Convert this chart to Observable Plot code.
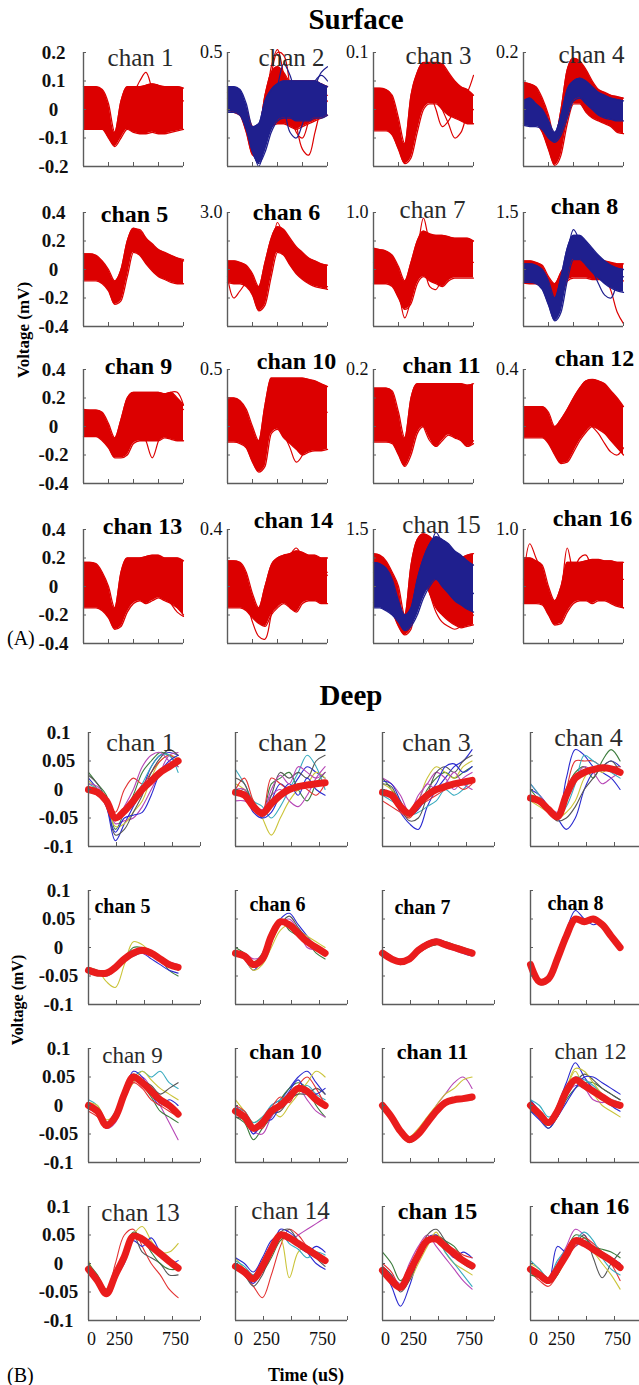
<!DOCTYPE html>
<html><head><meta charset="utf-8">
<script src="https://cdn.jsdelivr.net/npm/d3@7"></script>
<script src="https://cdn.jsdelivr.net/npm/@observablehq/plot@0.6"></script>
<style>
html,body{margin:0;padding:0;background:#fff;}
#fig{position:relative;width:639px;height:1385px;overflow:hidden;background:#fff;}
</style></head><body><div id="fig"></div>
<script>
// ---------------- DATA ----------------
const channels = ["chan 1","chan 2","chan 3","chan 4","chan 5","chan 6","chan 7","chan 8",
  "chan 9","chan 10","chan 11","chan 12","chan 13","chan 14","chan 15","chan 16"];
const surfTime = [0,62.5,125,187.5,250,312.5,375,437.5,500,562.5,625,687.5,750,812.5,875,937.5,1000];
const deepTime = [0,80,160,240,320,400,480,560,640,720,800];
const xTicks = [0,250,500,750,1000];
const deepXLabels = [0,250,750];
const surfYTicksRow1 = [0.2,0.1,0,-0.1,-0.2];
const surfYTicks = [0.4,0.2,0,-0.2,-0.4];
const deepYTicks = [0.1,0.05,0,-0.05,-0.1];
const surfTopLabels = ["0.2","0.5","0.1","0.2","0.4","3.0","1.0","1.5","0.4","0.5","0.2","0.4","0.4","0.4","1.5","1.0"];

// Surface: red spike bundle envelopes (upper / lower), in the units of each row's left axis
const surfRedHi = [
  [0.08,0.08,0.08,0.07,0.02,-0.08,0.03,0.08,0.08,0.08,0.085,0.09,0.085,0.08,0.08,0.08,0.075],
  [0.06,0.06,0.05,0.0,-0.06,-0.07,0.05,0.13,0.15,0.13,0.1,0.1,0.1,0.1,0.1,0.09,0.08],
  [0.075,0.075,0.07,0.05,-0.03,-0.12,0.05,0.13,0.165,0.165,0.165,0.16,0.13,0.1,0.08,0.07,0.05],
  [0.095,0.09,0.08,0.04,-0.02,-0.1,0.0,0.14,0.18,0.17,0.14,0.1,0.07,0.06,0.05,0.045,0.04],
  [0.11,0.11,0.1,0.06,0.0,-0.08,0.0,0.2,0.29,0.27,0.22,0.18,0.14,0.12,0.1,0.08,0.06],
  [0.06,0.06,0.05,0.03,-0.03,-0.12,0.05,0.22,0.3,0.28,0.22,0.16,0.12,0.08,0.06,0.04,0.03],
  [0.15,0.14,0.13,0.1,0.02,-0.08,0.05,0.2,0.27,0.25,0.24,0.24,0.23,0.22,0.22,0.22,0.2],
  [0.06,0.06,0.05,0.03,-0.05,-0.1,-0.02,0.05,0.07,0.08,0.08,0.07,0.07,0.06,0.05,0.04,0.04],
  [0.12,0.115,0.115,0.1,0.02,-0.08,0.05,0.2,0.24,0.24,0.24,0.24,0.24,0.23,0.24,0.2,0.15],
  [0.2,0.2,0.18,0.12,0.0,-0.1,0.15,0.34,0.34,0.34,0.34,0.34,0.34,0.33,0.32,0.3,0.28],
  [0.27,0.27,0.27,0.25,0.1,-0.08,0.2,0.3,0.3,0.3,0.3,0.3,0.3,0.3,0.3,0.29,0.3],
  [0.14,0.14,0.14,0.14,0.1,0.0,0.05,0.12,0.2,0.27,0.32,0.33,0.32,0.3,0.25,0.2,0.14],
  [0.17,0.17,0.16,0.1,0.0,-0.15,0.1,0.2,0.2,0.2,0.21,0.22,0.22,0.2,0.2,0.2,0.18],
  [0.18,0.18,0.17,0.1,-0.05,-0.15,0.0,0.15,0.2,0.22,0.23,0.25,0.24,0.22,0.22,0.2,0.2],
  [0.23,0.22,0.18,0.1,0.0,-0.2,0.15,0.33,0.37,0.35,0.3,0.25,0.2,0.18,0.2,0.22,0.23],
  [0.2,0.2,0.18,0.15,0.0,-0.1,0.0,0.17,0.17,0.17,0.18,0.19,0.19,0.18,0.18,0.17,0.17]
];
const surfRedLo = [
  [-0.07,-0.07,-0.07,-0.07,-0.1,-0.13,-0.1,-0.07,-0.08,-0.085,-0.085,-0.08,-0.085,-0.085,-0.08,-0.075,-0.07],
  [0.0,-0.01,-0.02,-0.08,-0.16,-0.17,-0.12,-0.06,-0.05,-0.05,-0.06,-0.07,-0.06,-0.05,-0.04,-0.03,-0.02],
  [-0.075,-0.075,-0.075,-0.09,-0.14,-0.19,-0.17,-0.08,0.0,0.02,0.02,0.0,-0.02,-0.03,-0.04,-0.05,-0.05],
  [-0.05,-0.05,-0.05,-0.08,-0.14,-0.196,-0.16,-0.05,0.02,0.02,-0.01,-0.03,-0.04,-0.05,-0.06,-0.08,-0.085],
  [-0.08,-0.08,-0.08,-0.1,-0.15,-0.245,-0.22,-0.05,0.12,0.1,0.04,-0.01,-0.05,-0.07,-0.09,-0.1,-0.1],
  [-0.09,-0.1,-0.1,-0.12,-0.18,-0.29,-0.25,-0.05,0.12,0.1,0.03,-0.03,-0.07,-0.1,-0.12,-0.13,-0.14],
  [-0.1,-0.1,-0.1,-0.12,-0.2,-0.28,-0.24,-0.1,-0.05,-0.08,-0.1,-0.12,-0.08,-0.06,-0.06,-0.06,-0.06],
  [-0.095,-0.1,-0.1,-0.12,-0.2,-0.27,-0.2,-0.08,-0.06,-0.06,-0.06,-0.07,-0.07,-0.07,-0.08,-0.08,-0.08],
  [-0.07,-0.07,-0.07,-0.1,-0.15,-0.22,-0.22,-0.2,-0.12,-0.1,-0.1,-0.1,-0.1,-0.08,-0.09,-0.1,-0.1],
  [-0.11,-0.11,-0.12,-0.15,-0.25,-0.32,-0.28,-0.05,-0.02,-0.08,-0.12,-0.16,-0.2,-0.18,-0.17,-0.17,-0.16],
  [-0.11,-0.11,-0.11,-0.12,-0.2,-0.28,-0.2,-0.05,0.0,-0.08,-0.14,-0.1,-0.06,-0.08,-0.1,-0.14,-0.12],
  [-0.08,-0.08,-0.08,-0.08,-0.12,-0.2,-0.26,-0.25,-0.18,-0.1,-0.04,0.0,-0.02,-0.05,-0.1,-0.15,-0.2],
  [-0.15,-0.15,-0.15,-0.17,-0.22,-0.3,-0.28,-0.18,-0.12,-0.1,-0.12,-0.1,-0.08,-0.1,-0.12,-0.15,-0.2],
  [-0.15,-0.15,-0.15,-0.17,-0.22,-0.26,-0.28,-0.2,-0.15,-0.12,-0.15,-0.18,-0.12,-0.1,-0.1,-0.12,-0.12],
  [-0.11,-0.12,-0.13,-0.18,-0.28,-0.34,-0.3,-0.05,0.05,-0.05,-0.15,-0.2,-0.24,-0.27,-0.29,-0.28,-0.27],
  [-0.12,-0.12,-0.12,-0.13,-0.2,-0.27,-0.26,-0.18,-0.12,-0.1,-0.1,-0.12,-0.1,-0.1,-0.12,-0.14,-0.15]
];
// Surface: blue (second unit) bundle envelopes, null where there is none
const surfBlueHi = [
  null,
  [0.08,0.08,0.07,0.02,-0.06,-0.05,0.03,0.07,0.09,0.1,0.1,0.1,0.1,0.1,0.1,0.09,0.08],
  null,
  [0.03,0.04,0.02,0.0,-0.04,-0.08,-0.02,0.07,0.1,0.11,0.1,0.08,0.06,0.05,0.04,0.035,0.03],
  null,null,null,
  [0.04,0.04,0.03,0.0,-0.08,-0.2,-0.05,0.15,0.24,0.24,0.2,0.15,0.1,0.06,0.03,0.01,0.0],
  null,null,null,null,null,null,
  [0.17,0.16,0.13,0.05,-0.1,-0.2,-0.15,0.05,0.2,0.3,0.35,0.33,0.3,0.25,0.22,0.18,0.15],
  null
];
const surfBlueLo = [
  null,
  [-0.01,-0.01,-0.02,-0.07,-0.15,-0.19,-0.15,-0.08,-0.04,-0.03,-0.03,-0.04,-0.04,-0.04,-0.03,-0.03,-0.02],
  null,
  [-0.056,-0.06,-0.06,-0.07,-0.1,-0.115,-0.09,-0.03,0.03,0.04,0.02,0.0,-0.02,-0.03,-0.035,-0.04,-0.04],
  null,null,null,
  [-0.09,-0.09,-0.1,-0.14,-0.25,-0.36,-0.3,-0.08,0.07,0.07,0.03,-0.02,-0.06,-0.1,-0.13,-0.15,-0.16],
  null,null,null,null,null,null,
  [-0.15,-0.15,-0.17,-0.2,-0.25,-0.31,-0.28,-0.2,-0.08,0.0,0.05,0.0,-0.05,-0.1,-0.13,-0.16,-0.18],
  null
];
// Surface: single outlying spikes drawn over the bundles
const surfRedOut = [
  [[0.03,0.03,0.02,0.0,-0.05,-0.1,-0.02,0.05,0.06,0.1,0.13,0.07,0.02,0.0,0.02,0.03,0.03]],
  [[0.04,0.04,0.03,-0.03,-0.12,-0.17,-0.05,0.12,0.2,0.19,0.08,-0.05,-0.14,-0.16,-0.08,0.0,0.03],
   [0.02,0.02,0.01,-0.05,-0.14,-0.16,-0.02,0.15,0.21,0.12,0.02,-0.08,-0.1,-0.04,0.02,0.04,0.05]],
  [[0.0,0.0,-0.01,-0.05,-0.12,-0.18,-0.05,0.08,0.12,0.1,0.05,0.0,-0.05,-0.1,-0.08,-0.02,0.0],
   [0.03,0.03,0.02,-0.02,-0.1,-0.17,-0.06,0.06,0.1,0.06,0.0,-0.06,-0.04,0.0,0.03,0.06,0.12]],
  [],
  [[0.0,0.0,-0.01,-0.04,-0.1,-0.2,-0.1,0.15,0.27,0.28,0.22,0.16,0.12,0.1,0.09,0.08,0.07]],
  [[-0.05,-0.2,-0.15,-0.1,-0.15,-0.25,-0.15,0.1,0.33,0.22,0.1,0.0,-0.05,-0.08,-0.1,-0.12,-0.12]],
  [[0.05,0.05,0.04,0.0,-0.15,-0.34,-0.2,0.1,0.36,0.2,0.15,0.1,0.1,0.12,0.15,0.18,0.2],
   [0.0,0.0,-0.02,-0.06,-0.15,-0.26,-0.2,-0.05,0.0,-0.12,-0.14,-0.05,0.05,0.08,0.06,0.05,0.05]],
  [[0.0,0.0,-0.01,-0.05,-0.15,-0.25,-0.1,0.03,0.05,0.04,0.02,0.0,-0.02,-0.05,-0.15,-0.3,-0.38]],
  [[0.0,0.0,0.0,-0.05,-0.12,-0.2,-0.15,0.0,0.05,0.0,-0.1,-0.22,-0.1,0.0,0.05,0.1,0.12],
   [0.0,0.0,0.0,-0.04,-0.1,-0.18,-0.1,0.1,0.2,0.18,0.12,0.1,0.14,0.2,0.24,0.24,0.15]],
  [[0.05,0.05,0.03,-0.05,-0.2,-0.3,-0.1,0.1,0.05,-0.05,-0.15,-0.25,-0.2,-0.05,0.05,0.1,0.1]],
  [[0.0,0.0,0.0,-0.03,-0.12,-0.22,-0.05,0.1,0.0,-0.1,-0.14,-0.05,0.05,0.0,-0.08,-0.14,-0.1]],
  [[0.0,0.0,0.0,0.0,-0.05,-0.15,-0.25,-0.2,-0.1,0.0,0.05,0.0,-0.05,-0.12,-0.18,-0.2,-0.15]],
  [[0.0,0.0,0.0,-0.05,-0.12,-0.25,-0.2,-0.05,0.0,-0.05,-0.12,-0.06,0.0,-0.05,-0.12,-0.18,-0.21]],
  [[0.0,0.0,-0.02,-0.1,-0.25,-0.35,-0.37,-0.2,-0.05,0.05,0.1,0.1,0.1,0.1,0.1,0.1,0.1],
   [0.0,0.0,-0.02,-0.06,-0.15,-0.2,-0.15,-0.05,0.05,0.15,0.22,0.27,0.2,0.1,0.05,0.05,0.08]],
  [[0.0,0.0,-0.02,-0.08,-0.2,-0.32,-0.1,0.2,0.1,-0.05,-0.18,-0.25,-0.28,-0.3,-0.28,-0.25,-0.2]],
  [[0.0,0.0,-0.02,-0.05,-0.15,-0.2,-0.05,0.27,0.1,0.05,0.05,0.05,0.05,0.05,0.05,0.05,0.05],
   [0.05,0.3,0.2,0.1,-0.05,-0.2,-0.15,0.0,0.1,0.2,0.22,0.1,0.0,-0.05,-0.1,-0.12,-0.15]]
];
const surfBlueOut = [
  [],
  [[0.05,0.05,0.04,-0.02,-0.12,-0.18,-0.1,0.0,0.03,0.0,-0.08,-0.1,-0.05,0.02,0.08,0.13,0.15],
   [0.03,0.03,0.02,-0.04,-0.13,-0.2,-0.12,-0.02,0.08,0.16,0.12,0.05,0.03,0.05,0.1,0.12,0.1]],
  [],
  [],[],[],[],
  [[0.0,0.0,-0.01,-0.05,-0.15,-0.3,-0.2,0.1,0.28,0.2,0.1,0.0,-0.1,-0.18,-0.2,-0.1,-0.05]],
  [],[],[],[],[],[],
  [[0.1,0.08,0.05,-0.02,-0.12,-0.25,-0.26,-0.15,0.05,0.25,0.38,0.3,0.2,0.1,0.05,0.0,-0.05]],
  []
];

// Deep: mean waveform (thick red) per channel
const deepMean = [
  [0.0,-0.005,-0.02,-0.05,-0.038,-0.02,0.0,0.015,0.03,0.04,0.05],
  [-0.005,-0.01,-0.03,-0.042,-0.025,-0.01,0.0,0.005,0.008,0.01,0.012],
  [-0.005,-0.01,-0.03,-0.042,-0.025,-0.01,0.0,0.005,0.01,0.013,0.016],
  [-0.015,-0.02,-0.035,-0.048,-0.01,0.02,0.03,0.035,0.038,0.036,0.03],
  [-0.04,-0.045,-0.045,-0.035,-0.02,-0.01,-0.005,-0.01,-0.02,-0.03,-0.035],
  [-0.01,-0.015,-0.03,-0.02,0.02,0.045,0.04,0.025,0.01,0.0,-0.01],
  [-0.01,-0.02,-0.025,-0.02,-0.005,0.005,0.01,0.005,0.0,-0.005,-0.01],
  [-0.03,-0.06,-0.055,-0.02,0.02,0.05,0.045,0.05,0.04,0.02,0.0],
  [0.0,-0.01,-0.035,-0.02,0.02,0.05,0.04,0.025,0.01,0.0,-0.015],
  [-0.01,-0.02,-0.04,-0.03,-0.01,0.0,0.015,0.03,0.025,0.01,0.0],
  [0.0,-0.02,-0.045,-0.06,-0.05,-0.03,-0.01,0.005,0.01,0.012,0.015],
  [0.0,-0.015,-0.03,-0.01,0.025,0.045,0.035,0.025,0.015,0.005,0.0],
  [-0.01,-0.03,-0.053,-0.02,0.012,0.048,0.043,0.03,0.017,0.004,-0.008],
  [-0.005,-0.015,-0.027,-0.005,0.025,0.05,0.045,0.035,0.025,0.015,0.005],
  [-0.012,-0.03,-0.042,-0.015,0.015,0.04,0.043,0.03,0.017,0.005,-0.004],
  [-0.01,-0.02,-0.03,-0.01,0.015,0.04,0.035,0.025,0.015,0.005,-0.007]
];
// Deep: individual spike traces (thin) per channel
const deepTraces = [
  [[0.02,0.0,-0.03,-0.09,-0.06,-0.03,0.0,0.04,0.06,0.065,0.06],
   [0.0,-0.01,-0.02,-0.06,-0.055,-0.05,-0.03,0.0,0.03,0.06,0.065],
   [0.03,0.01,-0.01,-0.07,-0.04,-0.01,0.03,0.05,0.065,0.06,0.04],
   [0.015,0.0,-0.02,-0.065,-0.06,-0.04,-0.02,0.02,0.05,0.06,0.055],
   [0.0,-0.01,-0.02,-0.04,0.0,0.02,0.01,0.03,0.05,0.06,0.05],
   [0.01,0.0,-0.02,-0.05,-0.035,-0.02,0.01,0.04,0.06,0.06,0.03],
   [0.025,0.01,-0.02,-0.08,-0.07,-0.04,-0.01,0.03,0.055,0.07,0.06],
   [0.0,-0.005,-0.03,-0.075,-0.05,-0.045,-0.04,-0.01,0.03,0.05,0.06],
   [0.01,0.005,-0.025,-0.055,-0.03,0.0,0.04,0.06,0.065,0.05,0.04]],
  [[0.0,-0.01,-0.04,-0.05,-0.02,0.01,0.0,0.02,0.04,0.03,0.02],
   [0.01,0.0,-0.02,-0.05,-0.08,-0.05,-0.02,0.0,0.01,0.03,0.02],
   [-0.01,0.0,-0.03,-0.04,0.01,0.02,0.03,0.0,-0.02,0.01,0.03],
   [0.035,0.01,-0.02,-0.03,-0.05,-0.03,0.0,0.03,0.06,0.04,0.0],
   [-0.02,-0.02,-0.03,-0.035,-0.01,0.0,-0.02,-0.03,-0.01,0.02,0.04],
   [0.0,0.02,-0.02,-0.04,0.02,0.01,0.0,0.01,0.0,-0.01,0.01],
   [0.02,0.01,-0.03,-0.045,-0.01,0.03,0.02,0.03,0.02,0.05,0.06],
   [-0.01,-0.005,-0.025,-0.05,-0.04,-0.01,0.01,-0.01,0.02,0.0,-0.01],
   [0.0,0.0,-0.035,-0.04,0.0,0.025,0.01,0.04,0.03,0.02,0.03]],
  [[0.0,-0.01,-0.04,-0.06,-0.07,-0.03,0.0,0.02,0.04,0.05,0.07],
   [0.02,0.0,-0.03,-0.04,-0.03,0.0,0.02,0.03,0.02,0.03,0.04],
   [0.01,0.0,-0.02,-0.05,-0.02,0.02,0.04,0.03,0.02,0.04,0.05],
   [-0.01,-0.02,-0.03,-0.045,-0.04,-0.03,-0.02,0.0,-0.01,0.0,0.02],
   [0.02,0.01,-0.01,-0.04,-0.01,0.01,0.03,0.02,0.0,0.02,0.03],
   [-0.02,-0.03,-0.04,-0.05,-0.03,-0.02,-0.01,0.0,0.01,0.0,0.01],
   [0.01,0.005,-0.03,-0.055,-0.05,-0.01,0.03,0.04,0.03,0.05,0.06],
   [-0.005,-0.015,-0.035,-0.04,-0.02,0.01,0.0,0.01,0.03,0.01,0.0],
   [0.015,0.01,-0.02,-0.045,-0.035,-0.01,0.01,0.04,0.045,0.03,0.04]],
  [[-0.01,-0.02,-0.04,-0.05,0.02,0.07,0.06,0.04,0.03,0.02,0.0],
   [0.0,-0.01,-0.03,-0.05,-0.07,-0.05,0.0,0.03,0.04,0.05,0.04],
   [0.0,-0.02,-0.04,-0.045,0.0,0.03,0.04,0.02,0.05,0.07,0.05],
   [-0.02,-0.03,-0.04,-0.05,-0.04,-0.02,0.02,0.04,0.03,0.04,0.03],
   [0.01,-0.01,-0.03,-0.04,-0.02,0.02,0.04,0.03,0.01,0.02,0.03],
   [-0.01,-0.02,-0.04,-0.05,0.0,0.05,0.05,0.05,0.04,0.04,0.04],
   [0.01,-0.01,-0.035,-0.05,-0.03,0.01,0.06,0.05,0.04,0.03,0.02],
   [-0.015,-0.025,-0.04,-0.055,-0.05,-0.03,0.0,0.02,0.04,0.05,0.03]],
  [[-0.035,-0.04,-0.06,-0.07,-0.03,0.01,0.005,-0.01,-0.02,-0.03,-0.04],
   [-0.04,-0.05,-0.045,-0.04,-0.02,0.0,0.0,-0.005,-0.02,-0.04,-0.05],
   [-0.04,-0.045,-0.05,-0.04,-0.025,-0.015,-0.01,-0.02,-0.03,-0.04,-0.045],
   [-0.035,-0.04,-0.045,-0.03,-0.015,-0.005,-0.01,-0.015,-0.02,-0.025,-0.03]],
  [[-0.005,-0.02,-0.04,-0.02,0.02,0.05,0.06,0.04,0.02,0.0,-0.01],
   [0.0,-0.01,-0.025,-0.01,0.03,0.05,0.03,0.02,0.01,-0.01,-0.02],
   [-0.015,-0.02,-0.04,-0.03,0.0,0.03,0.04,0.03,0.02,0.01,0.0],
   [-0.01,-0.01,-0.02,-0.015,0.01,0.04,0.05,0.03,0.0,-0.005,-0.015],
   [-0.005,-0.02,-0.035,-0.025,0.01,0.04,0.055,0.035,0.015,0.0,-0.005]],
  [[-0.005,-0.015,-0.025,-0.015,0.0,0.01,0.015,0.01,0.0,-0.01,-0.015],
   [-0.015,-0.02,-0.03,-0.02,-0.01,0.0,0.005,0.01,0.005,0.0,-0.005],
   [-0.01,-0.02,-0.02,-0.025,-0.01,0.0,0.01,0.0,-0.005,-0.01,-0.01]],
  [[-0.03,-0.06,-0.05,-0.01,0.03,0.065,0.05,0.04,0.045,0.02,-0.005],
   [-0.035,-0.065,-0.06,-0.02,0.015,0.045,0.05,0.05,0.035,0.015,0.0]],
  [[0.01,0.0,-0.03,-0.01,0.03,0.05,0.06,0.05,0.06,0.04,0.03],
   [0.0,-0.01,-0.04,-0.03,0.01,0.04,0.05,0.03,0.0,-0.03,-0.06],
   [-0.005,-0.015,-0.03,-0.02,0.02,0.06,0.05,0.02,0.0,0.01,0.0],
   [0.005,0.0,-0.025,-0.015,0.015,0.04,0.06,0.045,0.03,0.02,0.01],
   [0.0,-0.005,-0.035,-0.025,0.01,0.045,0.035,0.015,-0.01,-0.02,-0.03],
   [0.005,-0.005,-0.03,-0.015,0.025,0.055,0.045,0.035,0.02,0.03,0.04],
   [-0.01,-0.02,-0.04,-0.025,0.015,0.04,0.03,0.01,0.0,-0.01,-0.02]],
  [[0.0,-0.02,-0.05,-0.03,0.0,0.01,0.03,0.05,0.06,0.04,0.02],
   [-0.02,-0.03,-0.06,-0.04,-0.02,0.01,0.03,0.04,0.03,0.0,-0.02],
   [0.01,-0.01,-0.03,-0.02,-0.01,-0.02,0.0,0.02,0.04,0.06,0.05],
   [-0.015,-0.02,-0.045,-0.05,-0.02,0.0,0.02,0.03,0.01,-0.01,-0.02],
   [-0.005,-0.01,-0.03,-0.02,0.0,0.01,0.02,0.025,0.035,0.02,0.01],
   [-0.02,-0.025,-0.04,-0.035,-0.015,-0.01,0.01,0.02,0.02,0.03,0.02],
   [0.0,-0.01,-0.035,-0.04,-0.005,0.015,0.005,0.035,0.05,0.03,0.0],
   [-0.01,-0.02,-0.05,-0.025,-0.025,0.0,0.025,0.045,0.02,0.02,0.03]],
  [[0.0,-0.02,-0.045,-0.06,-0.05,-0.03,0.0,0.02,0.04,0.05,0.03],
   [0.005,-0.015,-0.04,-0.055,-0.04,-0.02,0.0,0.02,0.03,0.045,0.05],
   [-0.005,-0.025,-0.05,-0.065,-0.055,-0.035,-0.015,0.0,0.01,0.01,0.01]],
  [[0.01,-0.01,-0.03,0.0,0.04,0.075,0.05,0.03,0.02,0.0,-0.01],
   [-0.01,-0.02,-0.04,-0.02,0.01,0.03,0.04,0.04,0.03,0.02,0.01],
   [0.005,-0.01,-0.025,0.0,0.03,0.06,0.03,0.02,0.0,-0.01,-0.02],
   [-0.005,-0.02,-0.035,-0.015,0.02,0.04,0.055,0.045,0.03,0.02,0.01],
   [0.0,-0.015,-0.03,-0.02,0.015,0.035,0.03,0.01,0.005,0.01,0.005],
   [0.01,0.0,-0.02,-0.01,0.02,0.05,0.045,0.035,0.02,0.01,0.0],
   [0.0,-0.01,-0.025,-0.005,0.03,0.065,0.06,0.04,0.02,0.01,0.005],
   [-0.01,-0.025,-0.04,-0.02,0.005,0.03,0.05,0.05,0.04,0.03,0.02]],
  [[0.0,-0.03,-0.05,0.0,0.05,0.06,0.03,0.0,-0.02,-0.045,-0.06],
   [0.005,-0.03,-0.055,-0.03,0.01,0.05,0.065,0.04,0.02,0.02,0.035],
   [-0.005,-0.03,-0.05,-0.025,0.0,0.04,0.03,0.045,0.02,0.0,0.005],
   [-0.01,-0.035,-0.055,-0.02,0.015,0.05,0.02,0.01,0.0,-0.02,-0.02],
   [0.0,-0.02,-0.045,-0.02,0.02,0.055,0.045,0.02,0.0,-0.01,-0.01]],
  [[0.0,-0.02,-0.04,-0.06,-0.02,0.03,0.06,0.05,0.03,0.02,0.0],
   [0.01,-0.01,-0.03,0.0,0.03,0.045,-0.025,0.02,0.03,0.02,0.01],
   [-0.01,-0.02,-0.035,-0.01,0.02,0.06,0.055,0.04,0.02,0.0,-0.01],
   [0.0,-0.01,-0.02,0.0,0.03,0.05,0.04,0.05,0.06,0.07,0.08],
   [-0.01,-0.015,-0.025,-0.015,0.01,0.04,0.05,0.03,0.02,0.01,0.005],
   [0.005,-0.005,-0.02,0.005,0.035,0.055,0.035,0.025,0.01,0.02,0.015],
   [-0.005,-0.02,-0.04,-0.02,0.02,0.055,0.06,0.04,0.03,0.01,-0.005],
   [0.01,0.0,-0.015,0.01,0.04,0.05,0.045,0.03,0.02,0.03,0.02]],
  [[0.02,0.0,-0.03,-0.01,0.02,0.04,0.05,0.04,0.03,0.01,0.0],
   [-0.01,-0.04,-0.075,-0.04,0.01,0.045,0.05,0.03,0.01,0.02,0.01],
   [-0.015,-0.03,-0.04,-0.03,0.0,0.03,0.055,0.02,0.0,-0.01,-0.02],
   [-0.005,-0.02,-0.035,0.0,0.03,0.05,0.03,0.01,-0.01,-0.03,-0.045],
   [-0.01,-0.025,-0.045,-0.02,0.02,0.04,0.045,0.02,0.0,-0.02,-0.04],
   [-0.005,-0.02,-0.05,-0.03,0.01,0.05,0.06,0.04,0.02,0.0,-0.01],
   [0.0,-0.015,-0.04,-0.02,0.025,0.045,0.04,0.035,0.025,0.015,0.01]],
  [[-0.01,-0.015,-0.025,0.0,0.03,0.06,0.05,0.03,0.02,0.01,0.0],
   [-0.005,-0.02,-0.035,-0.01,0.02,0.035,0.05,0.01,-0.025,0.0,0.02],
   [-0.01,-0.02,-0.03,0.03,0.02,0.03,0.04,0.03,0.02,0.01,0.0],
   [0.0,-0.01,-0.03,-0.02,0.01,0.04,0.03,0.02,0.0,-0.02,-0.045],
   [-0.015,-0.03,-0.04,-0.02,0.01,0.03,0.045,0.035,0.02,0.0,-0.03],
   [-0.02,-0.025,-0.035,-0.02,0.02,0.05,0.045,0.03,0.025,0.02,0.01],
   [0.005,-0.01,-0.025,0.005,0.025,0.04,0.055,0.04,0.01,-0.01,-0.02]]
];

// ---------------- STYLE / LAYOUT ----------------
const SERIF = '"Liberation Serif","Times New Roman",Times,serif';
const RED = "#dc0000", NAVY = "#1f1f8e", AXIS = "#5c5c5c", THICK = "#ea1c1c";
const palette = {b:"#2a2ad0", g:"#3c7c3c", y:"#cbc43a", m:"#b646b6", c:"#38abbf", r:"#e33232", k:"#565656"};
const deepTraceColors = ["bmgyrckbm","bygcmrkbm","bgycmrkmb","bbgymrck","ygbm","bgymk","bgm","bk",
  "cmbygkr","bgymckrb","mygr","bgykmcyb","rybkg","rybmgckb","gbymckr","mkbyrgc"];
const surfBold = new Set([5,6,8,9,10,11,12,13,14,16]);
const deepBold = new Set([5,6,7,8,10,11,15,16]);
const surfCols = [83,227,373,523], surfRows = [52,212,369,529];
const deepCols = [88,235,382,530], deepRows = [732,890,1048,1206];
const surfTitleDx = [[57,64,65,68],[51,59,59,61],[55,69,68,71],[59,66,68,69]];
const surfTitleDy = [[13,13,11,10],[9,7,5,1],[4,-1,3,-4],[4,-2,3,-4]];
const deepTitleDx = [[52,57,54,58],[34,42,40,45],[44,50,50,60],[52,55,55,59]];
const deepTitleDy = [[18,18,18,13],[22,20,23,19],[14,10,10,10],[14,12,12,7]];
const deepTitleSize = [26,21,23,25];
const ML = 50, MR = 24, MT = 24, MB = 32, H = 114;

const fig = document.getElementById("fig");

function panel(o) {
  const marks = [
    ...o.marks,
    Plot.ruleX([0], {stroke: AXIS, strokeWidth: 1.4}),
    Plot.ruleY([o.dom[0]], {stroke: AXIS, strokeWidth: 1.4}),
    Plot.ruleX(xTicks, {x: d => d, y1: o.dom[0], y2: o.dom[0], insetBottom: 4, stroke: AXIS}),
    Plot.ruleY(o.yTicks, {y: d => d, x1: 0, x2: 0, insetRight: -3, stroke: AXIS})
  ];
  if (o.showY) {
    marks.push(Plot.text(o.yTicks, {x: 0, y: d => d, text: d => String(d), dx: -30, textAnchor: "middle",
      fontSize: 19, fontWeight: "bold", fill: "#111"}));
  } else if (o.topLabel) {
    marks.push(Plot.text([o.topLabel], {x: 0, y: o.dom[1], text: d => d, dx: -5, textAnchor: "end",
      fontSize: 18, fill: "#111"}));
  }
  if (o.xLabels) {
    marks.push(Plot.text(o.xLabels, {x: d => d, y: o.dom[0], text: d => String(d), dx: 3, dy: 24, lineAnchor: "bottom",
      fontSize: 18, fill: "#111"}));
  }
  marks.push(Plot.text([o.title], {frameAnchor: "top-left", dx: o.titleDx, dy: o.titleDy, text: d => d,
    textAnchor: "middle", lineAnchor: "bottom", fontSize: o.titleSize,
    fontWeight: o.bold ? "bold" : "normal", fill: o.bold ? "#000" : "#2a2a2a"}));
  const svg = Plot.plot({
    width: ML + o.W + MR, height: MT + H + MB,
    marginLeft: ML, marginRight: MR, marginTop: MT, marginBottom: MB,
    x: {domain: [0, 1000], axis: null},
    y: {domain: o.dom, axis: null},
    style: {background: "transparent", overflow: "visible", fontFamily: SERIF},
    marks
  });
  svg.style.position = "absolute";
  svg.style.left = (o.left - ML) + "px";
  svg.style.top = (o.top - MT) + "px";
  svg.style.maxWidth = "none";
  fig.appendChild(svg);
}

function bundle(hi, lo, color) {
  const data = surfTime.map((t, k) => ({t, lo: lo[k], hi: hi[k]}));
  return [
    Plot.areaY(data, {x: "t", y1: "lo", y2: "hi", fill: color, curve: "monotone-x"}),
    Plot.line(data, {x: "t", y: "hi", stroke: color, strokeWidth: 1.3, curve: "monotone-x"}),
    Plot.line(data, {x: "t", y: "lo", stroke: color, strokeWidth: 1.3, curve: "monotone-x"})
  ];
}
function spikes(list, color) {
  return list.map(tr => Plot.line(surfTime.map((t, k) => ({t, v: tr[k]})),
    {x: "t", y: "v", stroke: color, strokeWidth: 1.2, curve: "catmull-rom"}));
}

// ---------------- SURFACE ----------------
channels.forEach((name, i) => {
  const r = Math.floor(i / 4), c = i % 4;
  const dom = r === 0 ? [-0.2, 0.2] : [-0.4, 0.4];
  const marks = [...spikes(surfRedOut[i], RED), ...bundle(surfRedHi[i], surfRedLo[i], RED)];
  if (surfBlueHi[i]) {
    marks.push(...spikes(surfBlueOut[i], NAVY), ...bundle(surfBlueHi[i], surfBlueLo[i], NAVY));
  }
  panel({
    left: surfCols[c], top: surfRows[r], W: 100, dom,
    yTicks: r === 0 ? surfYTicksRow1 : surfYTicks,
    marks, showY: c === 0, topLabel: c === 0 ? null : surfTopLabels[i],
    title: name, titleDx: surfTitleDx[r][c], titleDy: surfTitleDy[r][c],
    titleSize: surfBold.has(i + 1) ? 24 : 25, bold: surfBold.has(i + 1)
  });
});

// ---------------- DEEP ----------------
channels.forEach((name, i) => {
  const r = Math.floor(i / 4), c = i % 4;
  const dom = [-0.1, 0.1];
  const marks = [];
  deepTraces[i].forEach((tr, j) => {
    const data = deepTime.map((t, k) => ({t, v: tr[k]}));
    marks.push(Plot.line(data, {x: "t", y: "v", stroke: palette[deepTraceColors[i][j]], strokeWidth: 1.1, curve: "catmull-rom"}));
  });
  const mean = deepTime.map((t, k) => ({t, v: deepMean[i][k]}));
  marks.push(Plot.line(mean, {x: "t", y: "v", stroke: THICK, strokeWidth: 7, strokeLinecap: "round", strokeLinejoin: "round", curve: "catmull-rom"}));
  panel({
    left: deepCols[c], top: deepRows[r], W: 112, dom,
    yTicks: deepYTicks, marks, showY: c === 0, topLabel: null,
    xLabels: r === 3 ? deepXLabels : null,
    title: name, titleDx: deepTitleDx[r][c], titleDy: deepTitleDy[r][c],
    titleSize: deepTitleSize[r] - (deepBold.has(i + 1) ? 1 : 0), bold: deepBold.has(i + 1)
  });
});

// ---------------- FIGURE TEXT ----------------
const g = d3.create("svg").attr("width", 639).attr("height", 1385)
  .style("position", "absolute").style("left", "0px").style("top", "0px")
  .style("font-family", SERIF).style("pointer-events", "none");
g.append("text").attr("x", 356).attr("y", 29).attr("text-anchor", "middle")
  .attr("font-size", 29).attr("font-weight", "bold").text("Surface");
g.append("text").attr("x", 351).attr("y", 705).attr("text-anchor", "middle")
  .attr("font-size", 29).attr("font-weight", "bold").text("Deep");
g.append("text").attr("transform", "translate(29,330) rotate(-90)").attr("text-anchor", "middle")
  .attr("font-size", 17).attr("font-weight", "bold").text("Voltage (mV)");
g.append("text").attr("transform", "translate(23,1000) rotate(-90)").attr("text-anchor", "middle")
  .attr("font-size", 16).attr("font-weight", "bold").text("Voltage (mV)");
g.append("text").attr("x", 7).attr("y", 645).attr("font-size", 20).text("(A)");
g.append("text").attr("x", 7).attr("y", 1382).attr("font-size", 20).text("(B)");
g.append("text").attr("x", 306).attr("y", 1381).attr("text-anchor", "middle")
  .attr("font-size", 18).attr("font-weight", "bold").text("Time (uS)");
fig.appendChild(g.node());
</script></body></html>
